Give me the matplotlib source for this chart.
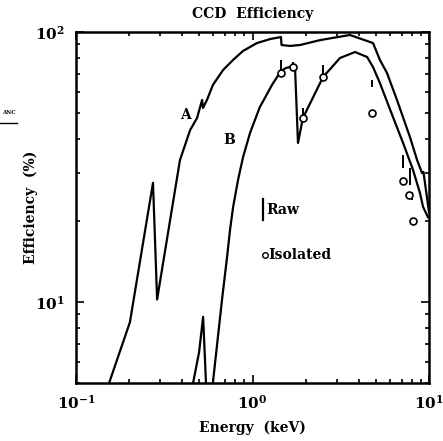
import matplotlib
matplotlib.use("Agg")
import matplotlib.pyplot as plt

# curve A (upper)
energy_a = [0.154, 0.202, 0.273, 0.288, 0.388, 0.443, 0.485, 0.518, 0.524, 0.552,
            0.597, 0.681, 0.776, 0.884, 1.06, 1.26, 1.45, 1.46, 1.63, 1.86,
            2.41, 3.56, 4.82, 5.27, 5.78, 6.59, 7.80, 8.55, 9.13, 9.30, 10.0]
eff_a = [5.0, 8.4, 27.6, 10.2, 33.5, 43.3, 48.0, 56.0, 52.3, 56.0,
         63.7, 72.3, 78.8, 85.1, 91.0, 94.2, 95.8, 89.5, 88.8, 89.5,
         93.3, 97.5, 91.0, 78.8, 70.5, 55.9, 40.8, 33.6, 30.0, 30.3, 21.5]

# curve B (lower)
energy_b = [0.455, 0.498, 0.525, 0.548, 0.590, 0.672, 0.690, 0.718, 0.746, 0.776,
            0.828, 0.884, 0.969, 1.10, 1.15, 1.29, 1.45, 1.55, 1.74, 1.81,
            1.93, 2.51, 3.13, 3.81, 4.46, 4.82, 5.27, 6.25, 7.13, 8.12,
            8.89, 9.25, 9.86]
eff_b = [4.8, 6.5, 8.8, 4.6, 4.7, 10.2, 11.8, 14.7, 18.5, 22.4,
         28.3, 34.4, 42.3, 52.7, 55.5, 63.7, 71.7, 73.6, 74.9, 38.8,
         48.0, 68.1, 80.1, 84.3, 80.8, 74.1, 64.7, 48.4, 38.8, 30.8,
         25.3, 22.5, 20.6]

# raw measurements (vertical bars)
raw_e = [1.45, 1.69, 1.93, 2.51, 4.75, 7.13, 7.80, 8.02]
raw_lo = [72.3, 74.1, 48.0, 68.1, 62.5, 31.3, 27.1, 23.8]
raw_hi = [78.8, 77.4, 52.3, 75.5, 66.4, 35.0, 31.3, 25.5]

# isolated measurements (circles)
iso_e = [1.45, 1.69, 1.93, 2.51, 4.75, 7.13, 7.71, 8.12]
iso_eff = [70.5, 74.1, 48.0, 68.1, 50.1, 28.0, 24.9, 19.9]

plt.rcParams['font.family'] = ['DejaVu Serif']
plt.rcParams['font.weight'] = 'bold'

fig = plt.figure(figsize=(4.43, 4.41), dpi=100)
ax = fig.add_axes([0.1716, 0.1315, 0.7968, 0.7959])

ax.plot(energy_a, eff_a, color='black', lw=1.6)
ax.plot(energy_b, eff_b, color='black', lw=1.6)
ax.vlines(raw_e, raw_lo, raw_hi, color='black', lw=1.4)
ax.plot(iso_e, iso_eff, 'o', ms=5, mfc='white', mec='black', mew=1.2)

ax.set_xscale('log')
ax.set_yscale('log')
ax.set_xlim(0.1, 10)
ax.set_ylim(5, 100)

ax.tick_params(which='both', direction='in', top=True, right=True, width=1.2)
ax.tick_params(which='major', length=6, labelsize=11, pad=8)
ax.tick_params(which='minor', length=3)
ax.yaxis.set_minor_formatter(plt.NullFormatter())
for s in ax.spines.values():
    s.set_linewidth(1.8)

ax.set_title('CCD  Efficiency', fontsize=10, fontweight='bold', pad=10)
ax.set_xlabel('Energy  (keV)', fontsize=10, fontweight='bold', labelpad=6)
ax.set_ylabel('Efficiency  (%)', fontsize=10, fontweight='bold', labelpad=-2)

# curve labels
ax.text(0.309, 0.764, 'A', transform=ax.transAxes, fontsize=10, fontweight='bold',
        ha='center', va='center')
ax.text(0.433, 0.692, 'B', transform=ax.transAxes, fontsize=10, fontweight='bold',
        ha='center', va='center')

# key
ax.plot([0.530, 0.530], [0.465, 0.525], transform=ax.transAxes, color='black', lw=1.6)
ax.text(0.540, 0.493, 'Raw', transform=ax.transAxes, fontsize=10, fontweight='bold',
        ha='left', va='center')
ax.plot([0.535], [0.365], 'o', transform=ax.transAxes, ms=4, mfc='white',
        mec='black', mew=1.0)
ax.text(0.545, 0.365, 'Isolated', transform=ax.transAxes, fontsize=10,
        fontweight='bold', ha='left', va='center')

# stray mark at the left margin
fig.text(0.005, 0.745, 'ANC', fontsize=4, fontweight='bold', ha='left', va='center')
fig.add_artist(plt.Line2D([0.0, 0.038], [0.722, 0.722], color='black', lw=1.0,
                          transform=fig.transFigure))

fig.savefig('out.png', dpi=100)
